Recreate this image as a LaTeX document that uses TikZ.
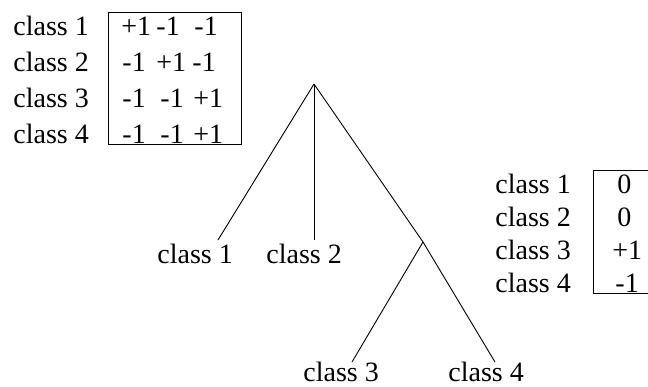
\documentclass[tikz,border=0pt]{standalone}
\usepackage{fontspec}
\newfontfamily\timesfont{Liberation Serif}
\begin{document}
\begin{tikzpicture}[x=1pt,y=-1pt,line width=0.9pt,
  lbl/.style={anchor=base west,inner sep=0pt,font=\timesfont\fontsize{28}{34}\selectfont},
  edge/.style={draw,line width=0.9pt},
  frame/.style={draw,line width=0.9pt}]
\useasboundingbox (0,0) rectangle (648,386);
\clip (0,0) rectangle (648,386);
% upper-left code matrix
\draw[frame] (108,12) rectangle (241,144);
\foreach \i/\y in {1/35,2/71,3/107,4/143}{
  \node[lbl] (a\i) at (13,\y) {class \i};
}
\node[lbl] (m11) at (121,35) {+1};
\node[lbl] (m12) at (156,35) {-1};
\node[lbl] (m13) at (194,35) {-1};
\node[lbl] (m21) at (122,71) {-1};
\node[lbl] (m22) at (156,71) {+1};
\node[lbl] (m23) at (192,71) {-1};
\node[lbl] (m31) at (122,107) {-1};
\node[lbl] (m32) at (160,107) {-1};
\node[lbl] (m33) at (193,107) {+1};
\node[lbl] (m41) at (122,143) {-1};
\node[lbl] (m42) at (160,143) {-1};
\node[lbl] (m43) at (193,143) {+1};
% right code column
\draw[frame] (660,170) -- (593,170) -- (593,293) -- (660,293);
\foreach \i/\y in {1/193,2/226,3/259,4/292}{
  \node[lbl] (b\i) at (495,\y) {class \i};
}
\node[lbl] (v1) at (617,193) {0};
\node[lbl] (v2) at (617,226) {0};
\node[lbl] (v3) at (612,259) {+1};
\node[lbl] (v4) at (615,292) {-1};
% tree
\coordinate (root) at (314,84);
\coordinate (mid) at (423,242);
\coordinate (t1) at (218,240);
\coordinate (t2) at (314,240);
\coordinate (t3) at (352,362);
\coordinate (t4) at (495,362);
\node[lbl] (c1) at (157,263) {class 1};
\node[lbl] (c2) at (266,263) {class 2};
\node[lbl] (c3) at (303,381) {class 3};
\node[lbl] (c4) at (448,381) {class 4};
\draw[edge] (root) -- (t1);
\draw[edge] (root) -- (t2);
\draw[edge] (root) -- (mid);
\draw[edge] (mid) -- (t3);
\draw[edge] (mid) -- (t4);
\end{tikzpicture}
\end{document}
